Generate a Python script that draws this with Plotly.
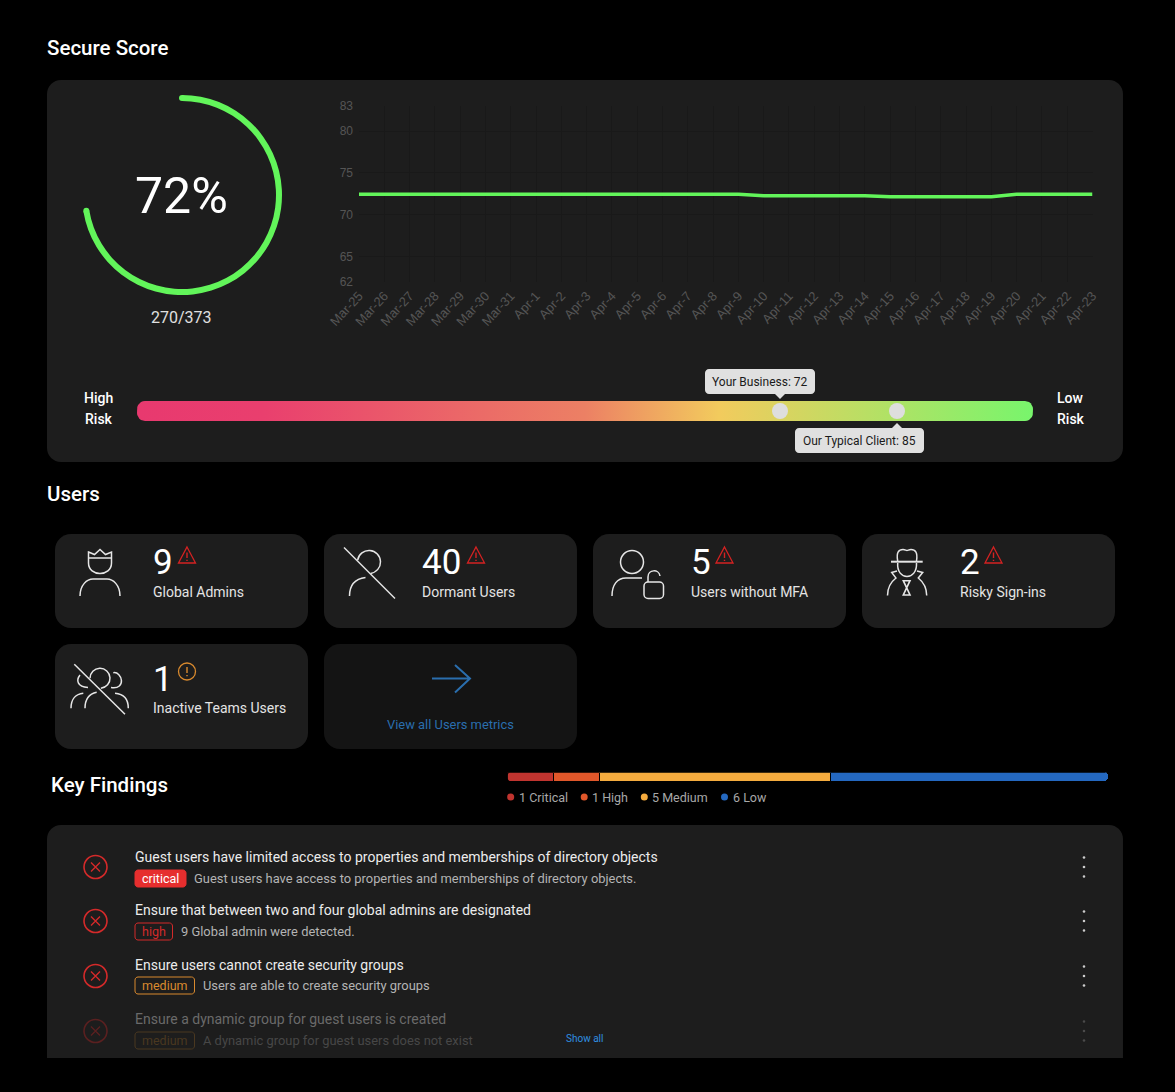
import math

import plotly.graph_objects as go

W = 1175
H = 1092

dates = ['Mar-25', 'Mar-26', 'Mar-27', 'Mar-28', 'Mar-29', 'Mar-30', 'Mar-31',
         'Apr-1', 'Apr-2', 'Apr-3', 'Apr-4', 'Apr-5', 'Apr-6', 'Apr-7', 'Apr-8',
         'Apr-9', 'Apr-10', 'Apr-11', 'Apr-12', 'Apr-13', 'Apr-14', 'Apr-15',
         'Apr-16', 'Apr-17', 'Apr-18', 'Apr-19', 'Apr-20', 'Apr-21', 'Apr-22',
         'Apr-23']
scores = [72.44, 72.44, 72.44, 72.44, 72.44, 72.44, 72.44, 72.44, 72.44, 72.44,
          72.44, 72.44, 72.44, 72.44, 72.44, 72.44, 72.28, 72.28, 72.28, 72.28,
          72.28, 72.16, 72.16, 72.16, 72.16, 72.16, 72.46, 72.46, 72.46, 72.46]
score_ticks = [62, 65, 70, 75, 80, 83]
points_earned = 270
points_total = 373

gauge_names = ['Your Business', 'Our Typical Client']
gauge_values = [72, 85]
gauge_stops = [[0, '#e8396f'], [0.14, '#e93f6e'], [0.5, '#ec8064'],
               [0.65, '#f2cb5d'], [1, '#78f56c']]

metric_values = [9, 40, 5, 2, 1]
metric_labels = ['Global Admins', 'Dormant Users', 'Users without MFA',
                 'Risky Sign-ins', 'Inactive Teams Users']

severity_names = ['Critical', 'High', 'Medium', 'Low']
severity_counts = [1, 1, 5, 6]
severity_colors = ['#c0342f', '#e0572a', '#f4ab3e', '#2468c0']

finding_titles = ['Guest users have limited access to properties and memberships of directory objects',
                  'Ensure that between two and four global admins are designated',
                  'Ensure users cannot create security groups',
                  'Ensure a dynamic group for guest users is created']
finding_details = ['Guest users have access to properties and memberships of directory objects.',
                   '9 Global admin were detected.',
                   'Users are able to create security groups',
                   'A dynamic group for guest users does not exist']
finding_levels = ['critical', 'high', 'medium', 'medium']

PANEL = '#1d1d1d'
GREEN = '#62f55a'
RED = '#d42a2a'
ICON = '#e6e6e6'

shapes = []
notes = []


def px(x, y):
    return x / W, 1 - y / H


def rounded(x0, y0, x1, y1, r, bottom=True, conv=None):
    # rounded box as a path, arcs are not allowed in shape paths so use beziers
    k = r * 0.45
    pts = [('M', x0 + r, y0), ('L', x1 - r, y0),
           ('C', x1 - k, y0, x1, y0 + k, x1, y0 + r)]
    if bottom:
        pts += [('L', x1, y1 - r), ('C', x1, y1 - k, x1 - k, y1, x1 - r, y1),
                ('L', x0 + r, y1), ('C', x0 + k, y1, x0, y1 - k, x0, y1 - r)]
    else:
        pts += [('L', x1, y1), ('L', x0, y1)]
    pts += [('L', x0, y0 + r), ('C', x0, y0 + k, x0 + k, y0, x0 + r, y0)]
    out = ''
    for p in pts:
        nums = p[1:]
        if conv:
            conv_nums = []
            for i in range(0, len(nums), 2):
                conv_nums += list(conv(nums[i], nums[i + 1]))
            nums = conv_nums
        out += p[0] + ' '.join(f'{n:.5f}' for n in nums) + ' '
    return out + 'Z'


def card(x0, y0, x1, y1, r, color, bottom=True):
    shapes.append(dict(type='path', xref='paper', yref='paper', layer='below',
                       path=rounded(x0, y0, x1, y1, r, bottom, px),
                       fillcolor=color, line_width=0))


def stroke(path, color=ICON, width=1.5, fill=None):
    shapes.append(dict(type='path', xref='x', yref='y', path=path,
                       line=dict(color=color, width=width),
                       fillcolor=fill if fill else 'rgba(0,0,0,0)'))


def circle(cx, cy, r, color=ICON, width=1.5, fill=None):
    shapes.append(dict(type='circle', xref='x', yref='y', x0=cx - r, x1=cx + r,
                       y0=cy - r, y1=cy + r,
                       line=dict(color=color, width=width),
                       fillcolor=fill if fill else 'rgba(0,0,0,0)'))


def arc(cx, cy, r, a0, a1):
    # angles in degrees clockwise from the top
    n = max(1, math.ceil(abs(a1 - a0) / 45))
    step = math.radians((a1 - a0) / n)
    k = 4 / 3 * math.tan(step / 4) * r
    a = math.radians(a0)
    d = f'M{cx + r * math.sin(a):.2f} {cy - r * math.cos(a):.2f} '
    for _ in range(n):
        b = a + step
        d += (f'C{cx + r * math.sin(a) + k * math.cos(a):.2f} {cy - r * math.cos(a) + k * math.sin(a):.2f} '
              f'{cx + r * math.sin(b) - k * math.cos(b):.2f} {cy - r * math.cos(b) - k * math.sin(b):.2f} '
              f'{cx + r * math.sin(b):.2f} {cy - r * math.cos(b):.2f} ')
        a = b
    return d


def text(x, y, s, size, color, anchor='left', weight=400):
    notes.append(dict(x=x, y=y, xref='x', yref='y', text=s, showarrow=False,
                      xanchor=anchor, yanchor='middle', borderpad=0, borderwidth=0,
                      font=dict(family='Roboto', size=size, color=color,
                                weight=weight)))


def warn(cx):
    c = '#d42222'
    stroke(f'M{cx} 547 L{cx + 8.5} 563 L{cx - 8.5} 563 Z', c, 1.3)
    stroke(f'M{cx} 552.5 V558 M{cx} 559.8 V561', c, 1.4)


fig = go.Figure()

# panels
card(47, 80, 1123, 462, 14, PANEL)
card(47, 825, 1123, 1058, 14, PANEL, bottom=False)
for x0, y0, y1, color in [(55, 534, 628, PANEL), (324, 534, 628, PANEL),
                          (593, 534, 628, PANEL), (862, 534, 628, PANEL),
                          (55, 644, 749, PANEL), (324, 644, 749, '#141414')]:
    card(x0, y0, x0 + 253, y1, 16, color)

# headings
text(47, 48, 'Secure Score', 20.5, '#ffffff', weight=500)
text(47, 494, 'Users', 20.5, '#ffffff', weight=500)
text(51, 785, 'Key Findings', 20.5, '#ffffff', weight=500)

# score ring
ring_end = 360 * points_earned / points_total
fig.add_trace(go.Pie(values=[points_earned, points_total - points_earned],
                     sort=False, direction='clockwise', rotation=0, hole=0.94,
                     marker=dict(colors=[GREEN, 'rgba(0,0,0,0)'], line_width=0),
                     textinfo='none', hoverinfo='skip', showlegend=False,
                     domain=dict(x=[82 / W, 282 / W], y=[1 - 295 / H, 1 - 95 / H])))
fig.add_trace(go.Scatterpolar(r=[97, 97], theta=[0, ring_end], mode='markers',
                              marker=dict(color=GREEN, size=6),
                              hoverinfo='skip', showlegend=False))
text(181, 196, f'{round(100 * points_earned / points_total)}%', 50, '#ffffff', 'center')
text(181.5, 317, f'{points_earned}/{points_total}', 16, '#e0e0e0', 'center')

# trend line
fig.add_trace(go.Scatter(x=dates, y=scores, mode='lines', xaxis='x2', yaxis='y2',
                         line=dict(color=GREEN, width=3.5), showlegend=False))

# risk bar, outline of a pill filled with the gradient
bar_x0, bar_x1, bar_y0, bar_y1, bar_r = 137, 1033, 401, 421, 8
outline = []
for cx, cy, start in [(bar_x1 - bar_r, bar_y0 + bar_r, 0), (bar_x1 - bar_r, bar_y1 - bar_r, 90),
                      (bar_x0 + bar_r, bar_y1 - bar_r, 180), (bar_x0 + bar_r, bar_y0 + bar_r, 270)]:
    for a in range(start, start + 91, 15):
        outline.append((cx + bar_r * math.sin(math.radians(a)), cy - bar_r * math.cos(math.radians(a))))
outline.append(outline[0])
fig.add_trace(go.Scatter(
    x=[p[0] for p in outline], y=[p[1] for p in outline],
    mode='lines', fill='toself', line_width=0, hoverinfo='skip', showlegend=False,
    fillgradient=dict(type='horizontal', colorscale=gauge_stops)))
fig.add_trace(go.Scatter(x=gauge_values, y=[0.5, 0.5], mode='markers',
                         xaxis='x3', yaxis='y3', cliponaxis=False,
                         marker=dict(color='#dedede', size=16, line_width=0),
                         showlegend=False))
text(113, 398, 'High', 14, '#ffffff', 'right', 500)
text(113, 419, 'Risk', 14, '#ffffff', 'right', 500)
text(1057, 398, 'Low', 14, '#ffffff', 'left', 500)
text(1057, 419, 'Risk', 14, '#ffffff', 'left', 500)

# callouts
shapes.append(dict(type='path', xref='x', yref='y', line_width=0, fillcolor='#e0e0e0',
                   path=rounded(705, 369, 815, 394, 4)))
shapes.append(dict(type='path', xref='x', yref='y', line_width=0, fillcolor='#e0e0e0',
                   path='M775 394 L780 399 L785 394 Z'))
shapes.append(dict(type='path', xref='x', yref='y', line_width=0, fillcolor='#e0e0e0',
                   path=rounded(795, 428, 924, 453, 4)))
shapes.append(dict(type='path', xref='x', yref='y', line_width=0, fillcolor='#e0e0e0',
                   path='M892 428 L897 423 L902 428 Z'))
text(760, 382, f'{gauge_names[0]}: {gauge_values[0]}', 12, '#1a1a1a', 'center')
text(859.5, 441, f'{gauge_names[1]}: {gauge_values[1]}', 12, '#1a1a1a', 'center')

# metric cards
for i, x in enumerate([153, 422, 691, 960, 153]):
    y = 562 if i < 4 else 679
    text(x, y, str(metric_values[i]), 35, '#ffffff')
    text(x, 592 if i < 4 else 708, metric_labels[i], 14, '#e4e4e4')
for cx in [187, 476, 724.5, 993.5]:
    warn(cx)
circle(187, 671.5, 8.5, '#d98a2e', 1.3)
stroke('M187 667 V673 M187 675 V676.2', '#d98a2e', 1.4)

# global admins icon
stroke('M88.5 552 L94.5 554.5 L100 549.5 L105.5 554.5 L111.5 552 V563 '
       'C111.5 577 88.5 577 88.5 563 Z M88.5 558 H111.5')
stroke('M80 596 C80 585 87 579 93 579 H107 C113 579 120 585 120 596')
# dormant users icon
stroke(arc(369, 562, 11.5, -80, 172))
stroke('M349.5 596 C349.5 586 354 579 365.5 577.5')
stroke('M344 547.5 L395 598.5')
# users without mfa icon
circle(632, 562, 11.5)
stroke('M612 596 C612 585 617 578 626 578 H642')
stroke(rounded(644, 582, 663.5, 598.5, 4))
stroke('M648 582 V577 C648 569 659 569 660 576')
# risky sign-ins icon
stroke('M891 561.7 H922.7', ICON, 2)
stroke('M897.7 561 C896 552 899 549.5 903 549.5 C905 549.5 906 550.5 907 550.5 C908 550.5 909 549.5 911 549.5 '
       'C915 549.5 918 552 916.5 561')
stroke('M897.7 563 C897 572 902 576.5 907 576.5 C912 576.5 917 572 916.5 563')
stroke('M897 571 L891.7 572.5 L896 578 C889.5 583 887.5 590 887.5 595.5')
stroke('M917 571 L922.7 572.5 L918.3 578 C924.5 583 926.7 590 926.7 595.5')
stroke('M903.3 580.7 H910 L903.3 595 H910 Z', ICON, 1.6)
# inactive teams icon
stroke(arc(100, 678.3, 10, -90, 175))
stroke('M113.3 672.7 C122 671 127 690 111 687.5')
stroke('M80 675 C76 680 77 687 88 687.5')
stroke('M85 708.3 C85 700 89 694 96.7 692.3')
stroke('M71 708.3 C71 699 76 694 83.3 693.3')
stroke('M128.3 708.3 C128.3 699 124 694 115 693.3')
stroke('M74.3 664.3 L125 714.3')
# arrow of the users link
stroke('M432 678.5 H470 M455 665 L470 678.5 L455 692.5', '#2a6eae', 2)
text(450, 724, 'View all Users metrics', 12.9, '#2a6eae', 'center')

# severity bar and its legend
for name, count, color in zip(severity_names, severity_counts, severity_colors):
    fig.add_trace(go.Bar(x=[count], y=['findings'], orientation='h', xaxis='x4',
                         yaxis='y4', name=name, showlegend=False,
                         marker=dict(color=color, line=dict(color='#000000', width=1))))
for name, count, color, dot_x in zip(severity_names, severity_counts, severity_colors,
                                     [510.7, 584.2, 644.3, 724.5]):
    circle(dot_x, 797, 3.5, color, 0, color)
    text(dot_x + 8, 797, f'{count} {name}', 12.5, '#a8a8a8')
# round the left end of the bar
stroke('M506.5 772.5 H511 C508.5 772.5 507.5 774 507.5 776.5 V777 C507.5 779.5 508.5 781 511 781 H506.5 Z',
       '#000000', 0, '#000000')

# findings rows
row_styles = {'critical': ('#e62e2e', '#e62e2e', '#ffffff', 51),
              'high': ('rgba(0,0,0,0)', '#d42a2a', '#d42a2a', 37.5),
              'medium': ('rgba(0,0,0,0)', '#d98a2e', '#d98a2e', 59.5)}
row_titles_y = [857, 910, 965, 1019]
row_chips_y = [870, 923, 977, 1032]
row_icons_y = [867, 921, 976, 1031]
for i, level in enumerate(finding_levels):
    fill, border, chip_text, chip_w = row_styles[level]
    title_color, detail_color, icon_color, dots_color = '#ececec', '#b4b4b4', RED, '#cccccc'
    if i == 3:
        title_color, detail_color, icon_color, dots_color = '#6a6a6a', '#474747', '#5a2020', '#4a4a4a'
        border, chip_text = '#4a3820', '#4a3820'
    yi = row_icons_y[i]
    circle(95.5, yi, 11.5, icon_color, 1.6)
    stroke(f'M91 {yi - 4.5} L100 {yi + 4.5} M100 {yi - 4.5} L91 {yi + 4.5}', icon_color, 1.4)
    text(135, row_titles_y[i], finding_titles[i], 14, title_color)
    y0 = row_chips_y[i]
    stroke(rounded(135, y0, 135 + chip_w, y0 + 17, 3), border, 1, fill)
    text(135 + chip_w / 2, y0 + 8.5, level, 12.5, chip_text, 'center')
    gap = 8 if level != 'high' else 8.5
    text(135 + chip_w + gap, y0 + 8.5, finding_details[i], 12.9, detail_color)
    for off in [-9.5, 0, 9.5]:
        circle(1084, yi + off, 1.3, dots_color, 0, dots_color)
text(566, 1038, 'Show all', 10, '#2f8fe0')

hidden = dict(visible=False, showgrid=False, zeroline=False, fixedrange=True, automargin=False)
fig.update_layout(
    width=W, height=H, margin=dict(l=0, r=0, t=0, b=0, pad=0), autosize=False,
    paper_bgcolor='#000000', plot_bgcolor='rgba(0,0,0,0)',
    font=dict(family='Roboto'), barmode='stack', bargap=0, barcornerradius=3,
    shapes=shapes, annotations=notes,
    xaxis=dict(hidden, range=[0, W], domain=[0, 1]),
    yaxis=dict(hidden, range=[H, 0], domain=[0, 1]),
    xaxis2=dict(domain=[359 / W, 1092.5 / W], anchor='y2', type='category',
                categoryorder='array', categoryarray=dates, range=[0, 29],
                tickmode='array', tickvals=dates, ticktext=dates, tickangle=-47,
                tickfont=dict(family='Liberation Sans', size=13, color='#555555'),
                showgrid=True, gridcolor='#191919', gridwidth=1, zeroline=False,
                showline=False, ticks='', ticklabelstandoff=3, automargin=False),
    yaxis2=dict(domain=[1 - 281.7 / H, 1 - 106 / H], anchor='x2', range=[62, 83],
                tickmode='array', tickvals=score_ticks,
                tickfont=dict(family='Liberation Sans', size=12, color='#555555'),
                showgrid=True, gridcolor='#191919', gridwidth=1, zeroline=False,
                showline=False, ticks='', ticklabelstandoff=5, automargin=False),
    xaxis3=dict(hidden, domain=[132 / W, 1032 / W], anchor='y3', range=[0, 100]),
    yaxis3=dict(hidden, domain=[1 - 421 / H, 1 - 401 / H], anchor='x3', range=[0, 1]),
    xaxis4=dict(hidden, domain=[507.5 / W, 1108 / W], anchor='y4',
                range=[0, sum(severity_counts)]),
    yaxis4=dict(hidden, domain=[1 - 781.5 / H, 1 - 772.5 / H], anchor='x4'),
    polar=dict(domain=dict(x=[82 / W, 282 / W], y=[1 - 295 / H, 1 - 95 / H]),
               bgcolor='rgba(0,0,0,0)',
               radialaxis=dict(visible=False, range=[0, 100]),
               angularaxis=dict(visible=False, rotation=90, direction='clockwise')),
)

fig.write_html("out.html", config={'displayModeBar': False},
               post_script="document.body.style.margin='0';document.body.style.background='#000';document.documentElement.style.overflow='hidden';")
